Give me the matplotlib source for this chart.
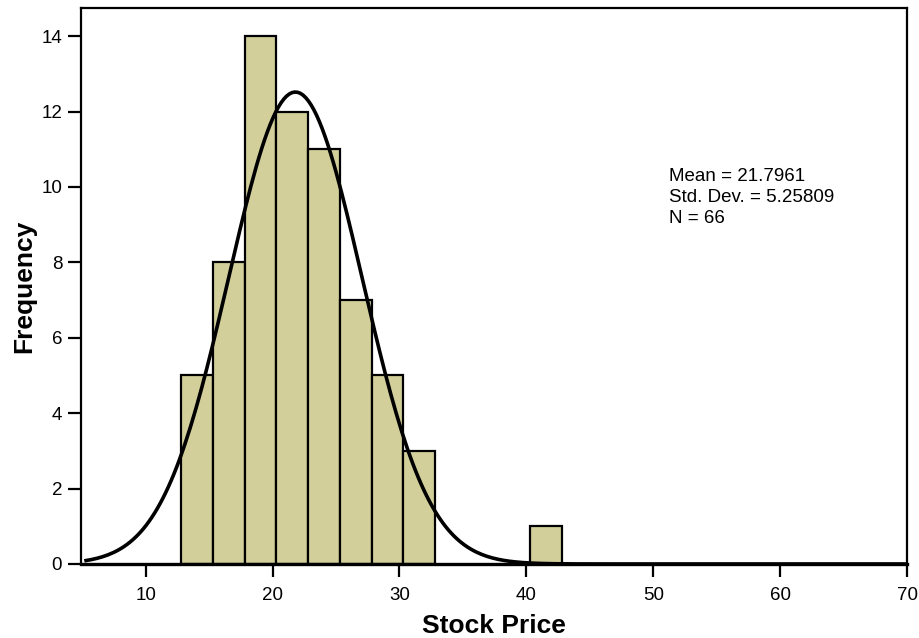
import numpy as np
import matplotlib
matplotlib.use("Agg")
import matplotlib.pyplot as plt

plt.rcParams['font.family'] = ['Liberation Sans', 'DejaVu Sans']

# histogram of stock prices
bin_left = [12.8, 15.3, 17.8, 20.3, 22.8, 25.3, 27.8, 30.3, 40.3]
counts = [5, 8, 14, 12, 11, 7, 5, 3, 1]
bin_width = 2.5

mean = 21.7961
std = 5.25809
n = 66

fig = plt.figure(figsize=(9.2, 6.38), dpi=100)
ax = fig.add_axes([0.088, 0.116, 0.898, 0.871])

ax.bar(bin_left, counts, width=bin_width, align='edge',
       color='#D3CF9B', edgecolor='black', linewidth=1.6, zorder=2)

# fitted normal curve, scaled to counts
xs = np.linspace(5.3, 70, 300)
ys = n * bin_width * np.exp(-0.5 * ((xs - mean) / std) ** 2) / (std * np.sqrt(2 * np.pi))
ax.plot(xs, ys, color='black', linewidth=2.6, zorder=3)

ax.set_xlim(4.9, 70)
ax.set_ylim(0, 14.74)
ax.set_xticks([10, 20, 30, 40, 50, 60, 70])
ax.set_yticks([0, 2, 4, 6, 8, 10, 12, 14])
ax.tick_params(direction='out', length=9.5, width=1.6, labelsize=13.5, pad=4)
ax.tick_params(axis='x', pad=7)
for side in ['left', 'top', 'right']:
    ax.spines[side].set_linewidth(1.6)
ax.spines['bottom'].set_linewidth(2.4)

ax.set_xlabel('Stock Price', fontsize=19, fontweight='bold', labelpad=7)
ax.set_ylabel('Frequency', fontsize=19, fontweight='bold', labelpad=4)

ax.text(0.712, 0.712, 'Mean = 21.7961\nStd. Dev. = 5.25809\nN = 66',
        transform=ax.transAxes, fontsize=13.5, va='top', ha='left',
        linespacing=1.3)

fig.savefig('out.png', dpi=100)
